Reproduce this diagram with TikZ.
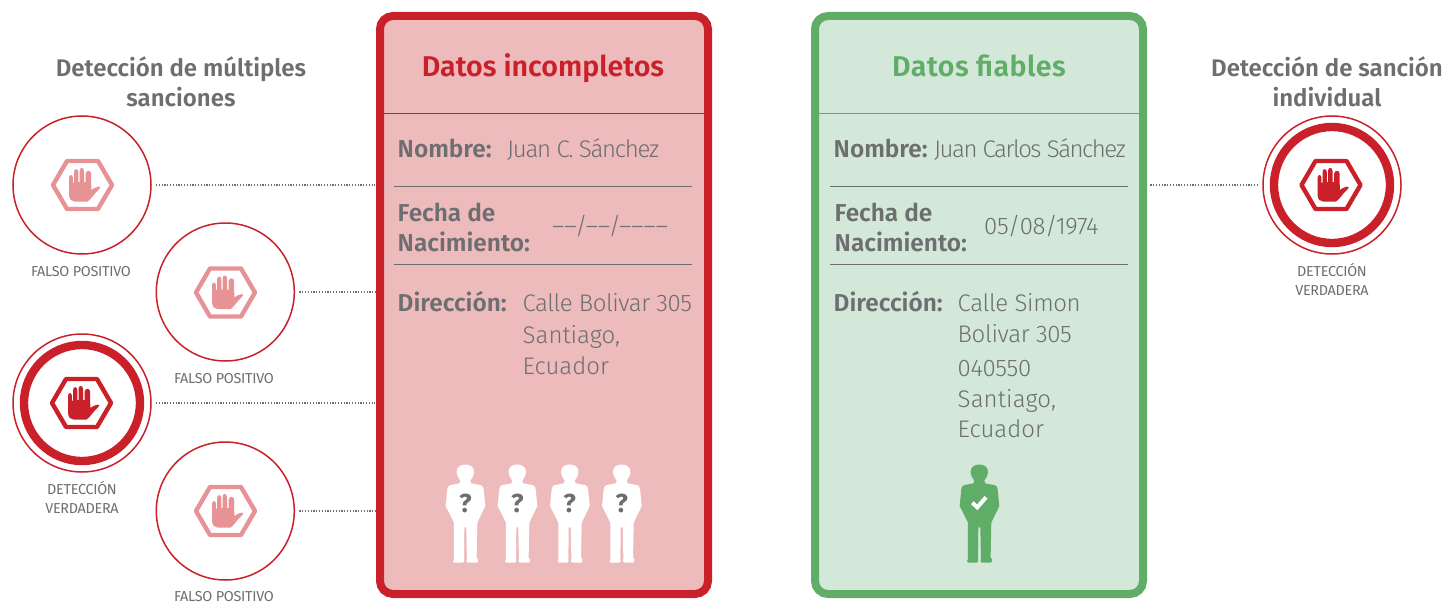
\documentclass[tikz,border=0pt]{standalone}
\usepackage{fontspec}
\setmainfont[BoldFont={Fira Sans SemiBold}]{Fira Sans Light}
\newfontfamily\capfont{Fira Sans}
\newfontfamily\markfont{Fira Sans Bold}
\usetikzlibrary{calc}
\definecolor{rd}{HTML}{C9202A}
\definecolor{rdsoft}{HTML}{E79396}
\definecolor{rdbg}{HTML}{EEBBBD}
\definecolor{gr}{HTML}{60AD68}
\definecolor{grbg}{HTML}{D3E8D9}
\definecolor{tx}{HTML}{6D6E70}
\tikzset{
  panel/.style={draw=#1,line width=8pt,rounded corners=13pt,minimum width=328pt,minimum height=578pt,inner sep=0pt,outer sep=0pt},
  ring/.style={circle,draw=rd,line width=1.5pt,minimum size=138pt,inner sep=0pt,outer sep=0pt},
  dots/.style={draw=tx,line width=1.2pt,dash pattern=on 1.2pt off 1.6pt,shorten <=5pt,shorten >=5pt},
  head/.style={anchor=base,align=center,text=tx,inner sep=0pt,font=\fontsize{24}{30}\selectfont\bfseries},
  title/.style={anchor=base,text=#1,inner sep=0pt,font=\fontsize{28.6}{36}\selectfont\bfseries},
  lab/.style={anchor=base west,text=tx,inner sep=0pt,font=\fontsize{24.4}{30}\selectfont\bfseries},
  val/.style={anchor=base west,text=tx,inner sep=0pt,font=\fontsize{24}{30}\selectfont\addfontfeature{LetterSpace=-1.5}},
  smallcap/.style={anchor=base,text=tx,inner sep=0pt,font=\fontsize{14.4}{16}\capfont\addfontfeature{LetterSpace=-2}},
  sep/.style={draw=tx,line width=0.8pt},
}
\newcommand{\stopicon}[3]{%
  \begin{scope}[shift={(#1,#2)}]
    \draw[#3,line width=4.4pt,line join=round] (-29.5,0)--(-15.5,-24)--(15.5,-24)--(29.5,0)--(15.5,24)--(-15.5,24)--cycle;
    \fill[#3] (-13.4,-7.5) .. controls (-13.4,-10.7) and (-9.6,-10.7) .. (-9.6,-7.5) -- (-9.6,-2.5) -- (-8.4,-2.5)
      -- (-8.4,-13) .. controls (-8.4,-16.8) and (-4.2,-16.8) .. (-4.2,-13) -- (-4.2,-3) -- (-3,-3)
      -- (-3,-14) .. controls (-3,-18) and (1.5,-18) .. (1.5,-14) -- (1.5,-3) -- (3,-3)
      -- (3.2,-11.5) .. controls (3.4,-15) and (8.6,-15) .. (8.6,-11.5) -- (8.8,5)
      .. controls (11,3.5) and (13,2.2) .. (16,1.6) .. controls (18.3,1.4) and (18.3,3) .. (16.4,4.5)
      .. controls (12,8) and (9,14) .. (5,16.6) -- (-8,16.6) .. controls (-11,16.6) and (-13.4,14) .. (-13.4,10) -- cycle;
  \end{scope}}
\newcommand{\person}[2]{% x, colour: coordinates are px at 3x
  \begin{scope}[shift={(#1,450)},scale=1/3]
    \fill[#2] (-15,92) .. controls (-18,86) and (-26,78) .. (-26,66) .. controls (-28,36) and (28,36) .. (26,66)
      .. controls (26,78) and (18,86) .. (15,92) -- (18,100) -- (48,106) .. controls (52,108) and (54,112) .. (55,118)
      -- (60,168) -- (36,218) -- (34,322) -- (38,328) .. controls (39,334) and (37,338) .. (34,338) -- (8,338)
      .. controls (3,338) and (2,332) .. (5,326) -- (3,232) -- (-3,232) -- (-4,326) .. controls (-2,332) and (-3,338) .. (-8,338)
      -- (-32,338) .. controls (-37,338) and (-39,332) .. (-34,326) -- (-34,218) -- (-59,168) -- (-54,118)
      .. controls (-53,112) and (-51,108) .. (-47,106) -- (-18,100) -- cycle;
  \end{scope}}
\begin{document}
\begin{tikzpicture}[x=1pt,y=-1pt]
\useasboundingbox (0,0) rectangle (1444,602);
% panels
\node[panel=rd,fill=rdbg] (redp) at (544,305) {};
\node[panel=gr,fill=grbg] (grnp) at (979,305) {};
\draw[draw=rd,line width=1pt] (redp.west |- 0,113) -- (redp.east |- 0,113);
\draw[draw=gr,line width=1pt] (grnp.west |- 0,113) -- (grnp.east |- 0,113);
\node[title=rd] (t1) at (543,77) {Datos incompletos};
\node[title=gr] (t2) at (979,77) {\addfontfeature{LetterSpace=1.6}Datos fiables};
% rows, red
\node[lab] (r1) at (397.5,157) {Nombre:};
\node[val] (r1v) at (507,157) {\addfontfeature{LetterSpace=-5.3}Juan C. Sánchez};
\draw[sep] (394,186) -- (692,186);
\node[lab] (r2) at (397.5,221) {Fecha de};
\node[lab] (r2b) at (397.5,251) {Nacimiento:};
\node[val] (r2v) at (552,234) {––/––/––––};
\draw[sep] (394,264) -- (692,264);
\node[lab] (r3) at (397.5,311) {Dirección:};
\node[val] (r3a) at (522.5,311) {\addfontfeature{LetterSpace=-2}Calle Bolivar 305};
\node[val] (r3b) at (522.5,343) {\addfontfeature{LetterSpace=0}Santiago,};
\node[val] (r3c) at (522.5,374) {\addfontfeature{LetterSpace=0}Ecuador};
% rows, green
\node[lab] (g1) at (833.5,157) {Nombre:};
\node[val] (g1v) at (934,157) {\addfontfeature{LetterSpace=-6.2}Juan Carlos Sánchez};
\draw[sep] (830,186) -- (1128,186);
\node[lab] (g2) at (834.5,221) {Fecha de};
\node[lab] (g2b) at (834.5,251) {Nacimiento:};
\node[val] (g2v) at (984,234) {05/08/1974};
\draw[sep] (830,264) -- (1128,264);
\node[lab] (g3) at (833.5,311) {Dirección:};
\node[val] (g3a) at (957.5,311) {Calle Simon};
\node[val] (g3b) at (957.5,342) {Bolivar 305};
\node[val] (g3c) at (957.5,376) {040550};
\node[val] (g3d) at (957.5,407) {\addfontfeature{LetterSpace=0.5}Santiago,};
\node[val] (g3e) at (957.5,437) {\addfontfeature{LetterSpace=0}Ecuador};
% people
\foreach \px/\pn in {465.3/a,517.3/b,569.7/c,621.7/d}{
  \person{\px}{white}
  \node[anchor=center,text=tx,inner sep=0pt,font=\fontsize{26}{26}\markfont] (q\pn) at (\px,503) {?};
}
\person{979.3}{gr}
\draw[white,line width=4pt] (972.3,502.7) -- (977.3,507.3) -- (986,497.3);
% headers
\node[head] (h1) at (181,76.5) {Detección de múltiples};
\node[head] (h1b) at (181,106.5) {sanciones};
\node[head] (h2) at (1327,76.5) {Detección de sanción};
\node[head] (h2b) at (1327,106.5) {individual};
% rings
\node[ring] (c1) at (82,185) {};
\node[ring] (c2) at (225.3,292) {};
\node[ring] (c3) at (82,403) {};
\node[ring] (c4) at (225.3,511) {};
\node[ring] (c5) at (1332,185) {};
\draw[rd,line width=8.4pt] (c3) circle[radius=58];
\draw[rd,line width=8.4pt] (c5) circle[radius=58];
\stopicon{82.5}{185}{rdsoft}
\stopicon{225.5}{292.5}{rdsoft}
\stopicon{81.5}{403}{rd}
\stopicon{225.5}{511}{rdsoft}
\stopicon{1331}{185}{rd}
% connectors
\draw[dots] (c1.east) -- (c1 -| redp.west);
\draw[dots] (c2.east) -- (c2 -| redp.west);
\draw[dots] (c3.east) -- (c3 -| redp.west);
\draw[dots] (c4.east) -- (c4 -| redp.west);
\draw[dots,shorten >=6pt] (c5.west) -- (c5 -| grnp.east);
% captions
\node[smallcap] (k1) at (81,276) {FALSO POSITIVO};
\node[smallcap] (k2) at (224,383) {FALSO POSITIVO};
\node[smallcap] (k3) at (82,494) {DETECCIÓN};
\node[smallcap] (k3b) at (82,513) {VERDADERA};
\node[smallcap] (k4) at (224,601) {FALSO POSITIVO};
\node[smallcap] (k5) at (1332,276) {DETECCIÓN};
\node[smallcap] (k5b) at (1332,295) {VERDADERA};
\end{tikzpicture}
\end{document}
